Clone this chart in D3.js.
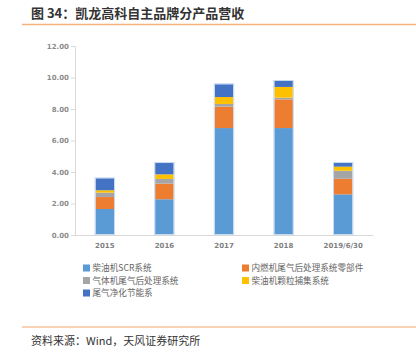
<!DOCTYPE html>
<head>
    <meta charset="utf-8">
    <script src="https://d3js.org/d3.v7.min.js"></script>
    <style>
        body { margin:0; background:#fff; }
        text { font-family: "Noto Sans CJK SC", "Noto Sans", sans-serif; }
    </style>
</head>
<body>
<div id="chart"></div>
<script>
    // ******************** Data ************************
    var years = ["2015", "2016", "2017", "2018", "2019/6/30"];
    var seriesNames = ["柴油机SCR系统", "内燃机尾气后处理系统零部件", "气体机尾气后处理系统",
                       "柴油机颗粒捕集系统", "尾气净化节能系"];
    var scrValues    = [1.65, 2.27, 6.79, 6.79, 2.58];
    var partsValues  = [0.76, 0.99, 1.36, 1.82, 0.99];
    var gasValues    = [0.28, 0.30, 0.17, 0.11, 0.51];
    var dpfValues    = [0.15, 0.29, 0.44, 0.68, 0.26];
    var saveValues   = [0.76, 0.72, 0.81, 0.38, 0.23];
    var yTicks = [0, 2, 4, 6, 8, 10, 12];
    var colors = ["#5B9BD5", "#ED7D31", "#A5A5A5", "#FFC000", "#4472C4"];

    var rows = years.map(function (y, i) {
        return { year: y, s0: scrValues[i], s1: partsValues[i], s2: gasValues[i],
                 s3: dpfValues[i], s4: saveValues[i] };
    });
    var keys = ["s0", "s1", "s2", "s3", "s4"];

    var svg = d3.select("#chart").append("svg")
        .attr("width", 416)
        .attr("height", 352);

    // Title and rules
    svg.append("text")
        .attr("x", 31).attr("y", 18)
        .style("font-size", "13px").style("font-weight", "bold").style("fill", "#333")
        .text("图 34：凯龙高科自主品牌分产品营收");
    svg.append("line")
        .attr("x1", 22).attr("x2", 416).attr("y1", 24.5).attr("y2", 24.5)
        .style("stroke", "#F8B27A").style("stroke-width", 1.5);
    svg.append("line")
        .attr("x1", 22).attr("x2", 416).attr("y1", 327).attr("y2", 327)
        .style("stroke", "#F4A46A").style("stroke-width", 1.2);
    svg.append("text")
        .attr("x", 31).attr("y", 345)
        .style("font-size", "11px").style("fill", "#333")
        .text("资料来源：Wind，天风证券研究所");

    // Scales
    var x = d3.scaleBand().domain(years).range([75, 373]).paddingInner(0.69).paddingOuter(0.345);
    var y = d3.scaleLinear().domain([0, 12]).range([235, 46]);

    // Axes
    var yAxis = svg.append("g")
        .attr("transform", "translate(75,0)")
        .call(d3.axisLeft(y).tickValues(yTicks).tickFormat(d3.format(".2f")).tickSize(4).tickPadding(2));
    yAxis.select(".domain").style("stroke", "#d9d9d9");
    yAxis.selectAll(".tick line").style("stroke", "#d9d9d9");
    yAxis.selectAll("text")
        .style("font-family", "'DejaVu Sans', sans-serif")
        .style("font-size", "7px").style("font-weight", "bold").style("fill", "#8c8c8c");

    var xAxis = svg.append("g")
        .attr("transform", "translate(0,235)")
        .call(d3.axisBottom(x).tickSize(0).tickPadding(8));
    xAxis.select(".domain").style("stroke", "#d9d9d9");
    xAxis.selectAll("text")
        .style("font-family", "'DejaVu Sans', sans-serif")
        .style("font-size", "7px").style("font-weight", "bold").style("fill", "#7f7f7f");

    // Stacked bars
    var stacked = d3.stack().keys(keys)(rows);
    svg.append("g").selectAll("g")
        .data(stacked)
        .enter().append("g")
        .style("fill", function (d, i) { return colors[i]; })
        .selectAll("rect")
        .data(function (d) { return d; })
        .enter().append("rect")
        .attr("x", function (d) { return x(d.data.year); })
        .attr("width", x.bandwidth())
        .attr("y", function (d) { return y(d[1]); })
        .attr("height", function (d) { return y(d[0]) - y(d[1]); });

    // light outline round each bar
    svg.append("g").selectAll("rect")
        .data(stacked[stacked.length - 1])
        .enter().append("rect")
        .attr("x", function (d) { return x(d.data.year) - 0.5; })
        .attr("width", x.bandwidth() + 1)
        .attr("y", function (d) { return y(d[1]) - 0.5; })
        .attr("height", function (d) { return y(0) - y(d[1]); })
        .style("fill", "none").style("stroke", "#c5d9ef").style("stroke-width", 1);

    // Legend
    var legendPos = [[83, 268], [242, 268], [83, 280.5], [242, 280.5], [83, 293]];
    var legend = svg.append("g").selectAll("g")
        .data(seriesNames)
        .enter().append("g")
        .attr("transform", function (d, i) { return "translate(" + legendPos[i][0] + "," + legendPos[i][1] + ")"; });
    legend.append("rect")
        .attr("x", 0).attr("y", -3.5).attr("width", 7).attr("height", 7)
        .style("fill", function (d, i) { return colors[i]; });
    legend.append("text")
        .attr("x", 9.5).attr("y", 3.2)
        .style("font-size", "8.6px").style("fill", "#666")
        .text(function (d) { return d; });
</script>
</body>
